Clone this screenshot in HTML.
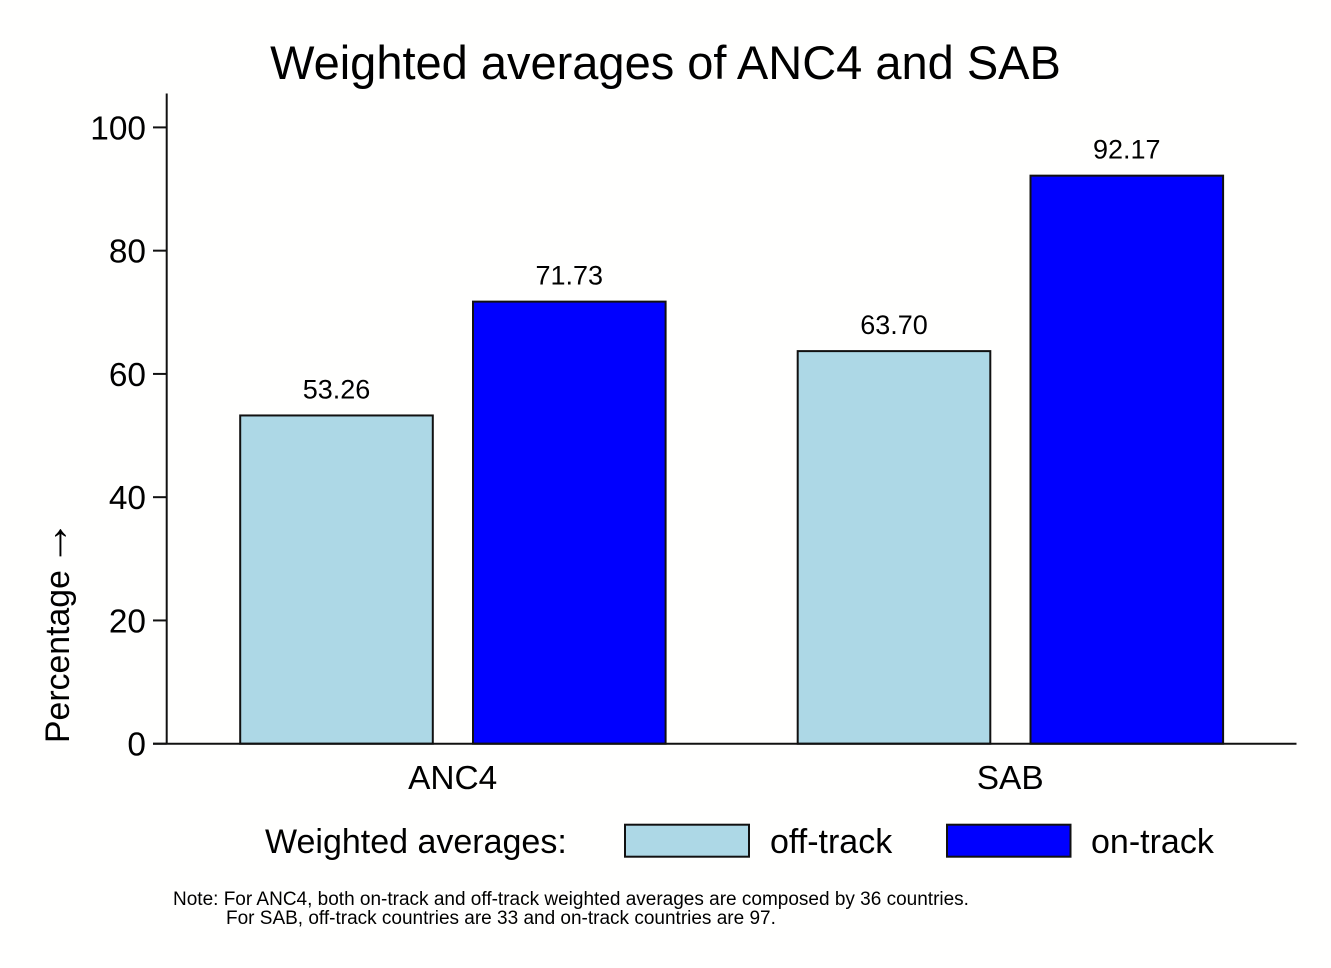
<!DOCTYPE html>
<html lang="en">
<head>
<meta charset="utf-8">
<title>Weighted averages of ANC4 and SAB</title>
<style>
html,body{margin:0;padding:0;background:#fff;width:1331px;height:968px;overflow:hidden}
svg{display:block}
text{font-family:"Liberation Sans",Arial,sans-serif;fill:#000}
</style>
</head>
<body>
<svg id="chart" xmlns="http://www.w3.org/2000/svg" width="1331" height="968" viewBox="0 0 1331 968">
  <rect x="0" y="0" width="1331" height="968" fill="#fffffe"/>
  <text x="665.5" y="79" font-size="47" text-anchor="middle">Weighted averages of ANC4 and SAB</text>
  <text transform="translate(69,743) rotate(-90)" font-size="33.8">Percentage <tspan font-size="46" dx="-5" dy="-1">→</tspan></text>
  <g id="plot"></g>
  <line x1="166.7" y1="93.5" x2="166.7" y2="744.5" stroke="#111" stroke-width="2"/>
  <line x1="153" y1="743.7" x2="1296.5" y2="743.7" stroke="#111" stroke-width="2"/>
  <text x="265" y="853" font-size="34">Weighted averages:</text>
  <rect x="625" y="824.7" width="124" height="32" fill="#add8e6" stroke="#111" stroke-width="2"/>
  <text x="770" y="853" font-size="34">off-track</text>
  <rect x="947" y="824.7" width="123.5" height="32" fill="#0000ff" stroke="#111" stroke-width="2"/>
  <text x="1091" y="853" font-size="34">on-track</text>
  <text x="173" y="905" font-size="19">Note: For ANC4, both on-track and off-track weighted averages are composed by 36 countries.</text>
  <text x="226" y="924" font-size="19">For SAB, off-track countries are 33 and on-track countries are 97.</text>
</svg>
<script>
const categories = ['ANC4', 'SAB'];
const seriesNames = ['off-track', 'on-track'];
const offTrack = [53.26, 63.70];
const onTrack = [71.73, 92.17];
const yTicks = [0, 20, 40, 60, 80, 100];

const NS = 'http://www.w3.org/2000/svg';
const plot = document.getElementById('plot');
const seriesValues = [offTrack, onTrack];
const seriesColors = ['#add8e6', '#0000ff'];

function yScale(v) {
  return 743.7 - v * 6.163;
}
function bandCenter(i) {
  return 452.7 + i * 557.5;
}
function barLeft(c, s) {
  return bandCenter(c) - 212.5 + s * 232.8;
}
function make(tag, attrs, parent) {
  const el = document.createElementNS(NS, tag);
  for (const k in attrs) el.setAttribute(k, attrs[k]);
  parent.appendChild(el);
  return el;
}

yTicks.forEach(function (t) {
  const tick = make('line', { x1: 153, x2: 166.7, y1: yScale(t), y2: yScale(t), stroke: '#111', 'stroke-width': 2 }, plot);
  
  
  const label = make('text', { x: 146, y: yScale(t) + 12, 'font-size': 33.4, 'text-anchor': 'end' }, plot);
  label.textContent = String(t);
  
  
});

categories.forEach(function (cat, c) {
  const label = make('text', { x: bandCenter(c), y: 789, 'font-size': 33.4, 'text-anchor': 'middle' }, plot);
  label.textContent = cat;
  
  

  seriesValues.forEach(function (values, s) {
    const v = values[c];
    const x = barLeft(c, s);
    const bar = make('rect', {
      x: x,
      y: yScale(v),
      width: 192.6,
      height: yScale(0) - yScale(v),
      fill: seriesColors[s],
      stroke: '#111',
      'stroke-width': 2
    }, plot);
    
    

    const valueLabel = make('text', {
      x: x + 96.3,
      y: yScale(v) - 17,
      'font-size': 27,
      'text-anchor': 'middle'
    }, plot);
    valueLabel.textContent = v.toFixed(2);
    
    
  });
});
</script>
</body>
</html>
